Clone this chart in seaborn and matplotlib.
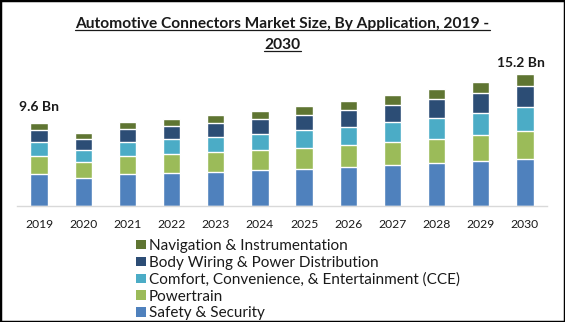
import matplotlib
matplotlib.use("Agg")
import matplotlib.pyplot as plt
import seaborn as sns
import numpy as np
from matplotlib.patches import Patch, Rectangle
from matplotlib.lines import Line2D

# ---- data (USD Bn) ----
years = ["2019", "2020", "2021", "2022", "2023", "2024",
         "2025", "2026", "2027", "2028", "2029", "2030"]
safety = [3.70, 3.23, 3.70, 3.81, 3.93, 4.16, 4.27, 4.50, 4.74, 4.97, 5.20, 5.43]
powertrain = [2.08, 1.85, 2.11, 2.19, 2.31, 2.31, 2.43, 2.54, 2.66, 2.77, 3.00, 3.23]
cce = [1.62, 1.39, 1.58, 1.73, 1.73, 1.85, 2.08, 2.08, 2.31, 2.43, 2.54, 2.77]
body = [1.35, 1.27, 1.50, 1.50, 1.62, 1.73, 1.73, 1.96, 1.96, 2.19, 2.34, 2.43]
navigation = [0.84, 0.69, 0.81, 0.81, 0.92, 0.92, 1.04, 1.04, 1.16, 1.16, 1.24, 1.39]
series_names = ["Safety & Security", "Powertrain",
                "Comfort, Convenience, & Entertainment (CCE)",
                "Body Wiring & Power Distribution",
                "Navigation & Instrumentation"]
colors = ["#4F81BD", "#9BBB59", "#4BACC6", "#2C4D75", "#5F7532"]
title_lines = ["Automotive Connectors Market Size, By Application, 2019 -", "2030"]
annot_idx = [0, 11]
annot_text = ["9.6 Bn", "15.2 Bn"]

sns.set_theme(style="white")
plt.rcParams['font.family'] = ['Lato', 'DejaVu Sans']

W, H = 565, 322
fig = plt.figure(figsize=(W / 100, H / 100), dpi=100)
ax = fig.add_axes([17 / W, (H - 206) / H, 530 / W, 146 / H])

series = [safety, powertrain, cce, body, navigation]
cum = np.cumsum(np.array(series), axis=0)
for i in reversed(range(len(series))):
    sns.barplot(x=years, y=cum[i], color=colors[i], width=0.39,
                saturation=1, ax=ax, order=years)

ax.set_xlim(-0.5, len(years) - 0.5)
ax.set_ylim(0, 16.86)
ax.set_yticks([])
ax.set_xlabel("")
ax.set_ylabel("")
for s in ["top", "right", "left"]:
    ax.spines[s].set_visible(False)
ax.spines["bottom"].set_color("#D9D9D9")
ax.spines["bottom"].set_linewidth(1.0)
ax.tick_params(axis="x", length=0, pad=9, labelsize=8.7, labelcolor="#1a1a1a")

totals = cum[-1]
offsets = [(0, 16), (-4, 11)]
for idx, txt, off in zip(annot_idx, annot_text, offsets):
    ax.annotate(txt, xy=(idx, totals[idx]), xytext=off, textcoords="offset pixels",
                ha="center", va="center", fontsize=10, fontweight="bold",
                color="#1a1a1a")

# title with underline
title_y = [24, 45]
texts = []
for line, yy in zip(title_lines, title_y):
    t = fig.text(282.5 / W, 1 - yy / H, line, ha="center", va="center",
                 fontsize=11.2, fontweight="bold", color="#1a1a1a")
    texts.append(t)
fig.canvas.draw()
r = fig.canvas.get_renderer()
for t in texts:
    bb = t.get_window_extent(renderer=r)
    y = (bb.y0 + 1.5) / H
    fig.add_artist(Line2D([bb.x0 / W, bb.x1 / W], [y, y], transform=fig.transFigure,
                          color="#1a1a1a", linewidth=0.9))

# legend (reversed order)
handles = [Patch(facecolor=colors[i], edgecolor="none") for i in reversed(range(len(series)))]
labels = [series_names[i] for i in reversed(range(len(series)))]
fig.legend(handles, labels, loc="upper left", bbox_to_anchor=(136 / W, 1 - 239 / H),
           frameon=False, fontsize=11, handlelength=0.65, handleheight=0.6,
           handletextpad=0.2, labelspacing=0.18, borderpad=0, borderaxespad=0,
           labelcolor="#1a1a1a")

fig.patches.append(Rectangle((0, 0), 1, 1, transform=fig.transFigure, fill=False,
                             edgecolor="black", linewidth=2.5))

fig.savefig("out.png", dpi=100)
